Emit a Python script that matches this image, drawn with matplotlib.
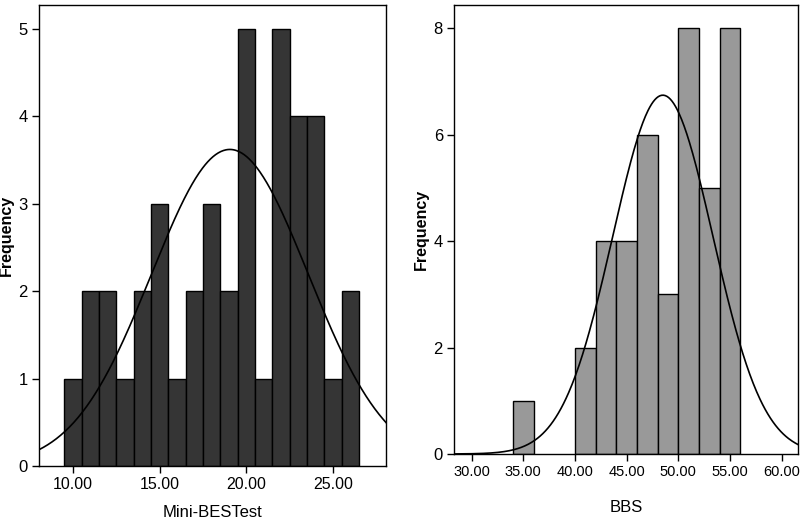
import numpy as np
import matplotlib
matplotlib.use("Agg")
import matplotlib.pyplot as plt

# ---- data ----
mini_bin_edges = [9.5, 10.5, 11.5, 12.5, 13.5, 14.5, 15.5, 16.5, 17.5, 18.5,
                  19.5, 20.5, 21.5, 22.5, 23.5, 24.5, 25.5, 26.5]
mini_counts = [1, 2, 2, 1, 2, 3, 1, 2, 3, 2, 5, 1, 5, 4, 4, 1, 2]
mini_mean = 19.05
mini_sd = 4.52
mini_xticks = [10, 15, 20, 25]
mini_yticks = [0, 1, 2, 3, 4, 5]

bbs_bin_edges = [34, 36, 38, 40, 42, 44, 46, 48, 50, 52, 54, 56]
bbs_counts = [1, 0, 0, 2, 4, 4, 6, 3, 8, 5, 8]
bbs_mean = 48.5
bbs_sd = 4.85
bbs_xticks = [30, 35, 40, 45, 50, 55, 60]
bbs_yticks = [0, 2, 4, 6, 8]

plt.rcParams['font.family'] = ["Liberation Sans", "DejaVu Sans"]

fig = plt.figure(figsize=(8, 5.22), dpi=100)
ax1 = fig.add_axes([0.04875, 0.1073, 0.4338, 0.8831])
ax2 = fig.add_axes([0.5675, 0.1303, 0.43, 0.8601])


def draw(ax, edges, counts, mean, sd, color, xlim, ylim, xticks, yticks,
         xlabel, xlab_y, ylab_x, xtick_fs):
    edges = np.asarray(edges, float)
    counts = np.asarray(counts, float)
    widths = np.diff(edges)
    mask = counts > 0
    ax.bar(edges[:-1][mask], counts[mask], width=widths[mask], align='edge',
           color=color, edgecolor='black', linewidth=1.0, zorder=2)
    n = counts.sum()
    bw = widths[0]
    xs = np.linspace(xlim[0], xlim[1], 400)
    ys = n * bw / (sd * np.sqrt(2 * np.pi)) * np.exp(-0.5 * ((xs - mean) / sd) ** 2)
    ax.plot(xs, ys, color='black', linewidth=1.2, zorder=3)
    ax.set_xlim(*xlim)
    ax.set_ylim(*ylim)
    ax.set_xticks(xticks)
    ax.set_xticklabels([f"{t:.2f}" for t in xticks], fontsize=xtick_fs)
    ax.set_yticks(yticks)
    ax.set_yticklabels([str(t) for t in yticks], fontsize=12)
    ax.tick_params(direction='out', length=5, width=1, color='black', pad=3)
    for s in ax.spines.values():
        s.set_linewidth(1.0)
        s.set_color('black')
    ax.set_xlabel(xlabel, fontsize=12)
    ax.xaxis.set_label_coords(0.5, xlab_y)
    ax.set_ylabel("Frequency", fontsize=11.5, fontweight='bold')
    ax.yaxis.set_label_coords(ylab_x, 0.5)


draw(ax1, mini_bin_edges, mini_counts, mini_mean, mini_sd, '#353535',
     (8.04, 28.06), (0, 5.27), mini_xticks, mini_yticks, "Mini-BESTest",
     -0.084, -0.072, 11.5)
draw(ax2, bbs_bin_edges, bbs_counts, bbs_mean, bbs_sd, '#999999',
     (28.29, 61.58), (0, 8.44), bbs_xticks, bbs_yticks, "BBS",
     -0.102, -0.072, 10.5)

fig.savefig("out.png", dpi=100)
